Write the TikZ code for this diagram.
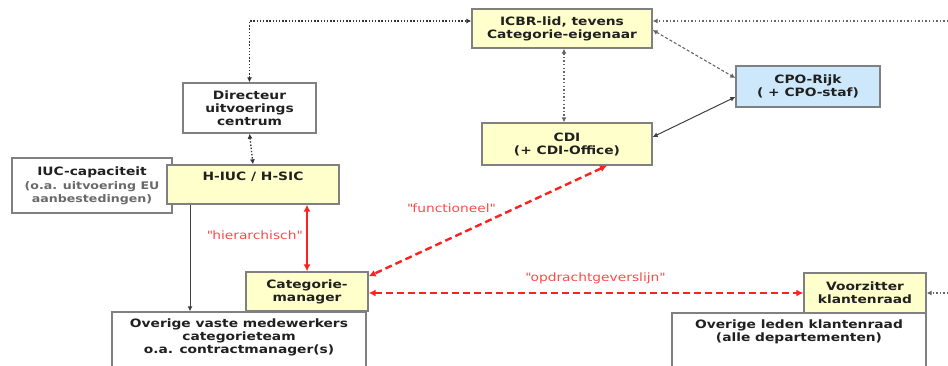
\documentclass[tikz,border=0pt]{standalone}
\usepackage{fontspec}
\setmainfont{DejaVu Sans}[FakeStretch=1.2]
\usetikzlibrary{arrows.meta,calc}
\definecolor{boxline}{HTML}{808080}
\definecolor{cream}{HTML}{FFFFCC}
\definecolor{paleblue}{HTML}{CCE8FA}
\definecolor{relred}{HTML}{FF2020}
\definecolor{lblred}{HTML}{FF4A4A}
\definecolor{txt}{HTML}{202020}
\definecolor{subtxt}{HTML}{6A6A6A}
\newcommand{\dq}{\textquotedbl}
\newcommand{\subline}[1]{\textcolor{subtxt}{\fontsize{10.5}{13}\selectfont #1}}
\begin{document}
\begin{tikzpicture}[x=1pt,y=-1pt,
  every node/.style={font=\fontsize{11.5}{13}\selectfont},
  box/.style={draw=boxline, line width=1.3pt, align=center, inner sep=0pt,
    text=txt, font=\fontsize{11.5}{13}\selectfont\bfseries},
  yellowbox/.style={box, fill=cream},
  bluebox/.style={box, fill=paleblue},
  whitebox/.style={box, fill=white},
  tip/.style={-{Latex[length=5pt,width=5pt]}},
  dottip/.style={{Latex[length=5pt,width=5pt]}-{Latex[length=5pt,width=5pt]}},
  dotline/.style={draw=black!80, line width=1.3pt, dash pattern=on 1.4pt off 1.8pt},
  greydots/.style={draw=black!60, line width=1.3pt, dash pattern=on 1.4pt off 2.2pt},
  greydash/.style={draw=black!60, line width=1.1pt, dash pattern=on 3pt off 2pt},
  solidlink/.style={draw=black!75, line width=1pt},
  redlink/.style={draw=relred, line width=2.4pt,
    {Latex[length=7pt,width=7pt]}-{Latex[length=7pt,width=7pt]}},
  reddash/.style={redlink, dash pattern=on 7pt off 4pt},
  rellabel/.style={text=lblred, inner sep=1pt}]

\useasboundingbox (0,0) rectangle (948,366);
\clip (0,0) rectangle (948,366);

% boxes
\node[yellowbox, minimum width=180pt, minimum height=39pt] (icbr) at (562,28.5)
  {ICBR-lid, tevens\\Categorie-eigenaar};
\node[bluebox, minimum width=144pt, minimum height=41pt] (cpo) at (808,86.5)
  {CPO-Rijk\\( + CPO-staf)};
\node[yellowbox, minimum width=170pt, minimum height=42pt] (cdi) at (567,144)
  {CDI\\(+ CDI-Office)};
\node[whitebox, minimum width=133pt, minimum height=50pt] (dir) at (249.5,108)
  {Directeur\\uitvoerings\\centrum};
\node[whitebox, minimum width=160pt, minimum height=55pt] (iuc) at (92,185.5)
  {IUC-capaciteit\\[1pt]\subline{(o.a. uitvoering EU}\\\subline{aanbestedingen)}};
\node[yellowbox, minimum width=172pt, minimum height=39pt,
  label={[anchor=north, yshift=-4pt, font=\fontsize{11.5}{13}\selectfont\bfseries, text=txt]north:H-IUC / H-SIC}]
  (hiuc) at (253,184.5) {};
\node[whitebox, minimum width=254pt, minimum height=60pt, align=center,
  label={[anchor=north, yshift=-4pt, align=center, font=\fontsize{11.5}{13}\selectfont\bfseries, text=txt]north:Overige vaste medewerkers\\categorieteam\\o.a. contractmanager(s)}]
  (ovv) at (239,342) {};
\node[yellowbox, minimum width=122pt, minimum height=39pt] (cat) at (307,291.5)
  {Categorie-\\manager};
\node[whitebox, minimum width=254pt, minimum height=60pt,
  label={[anchor=north, yshift=-4pt, align=center, font=\fontsize{11.5}{13}\selectfont\bfseries, text=txt]north:Overige leden klantenraad\\(alle departementen)}]
  (ovl) at (799,343) {};
\node[yellowbox, minimum width=122pt, minimum height=40pt] (voor) at (865,293)
  {Voorzitter\\klantenraad};

% off-picture ends of the outgoing links
\coordinate (rtop) at (952,21);
\coordinate (rbot) at (952,293);

% black / grey links
\draw[dotline, dottip] (dir.north) |- ([yshift=7.5pt]icbr.west);
\draw[dotline, dottip] (dir.south) -- (hiuc.north);
\draw[greydots, tip] (rtop) -- ([yshift=7.5pt]icbr.east);
\draw[greydash, dottip] ([yshift=-1.5pt]icbr.east) -- ([yshift=8.5pt]cpo.west);
\draw[greydots, dottip] ([xshift=2pt]icbr.south) -- ([xshift=2pt]icbr.south |- cdi.north);
\draw[solidlink, dottip] ([yshift=7pt]cdi.east) -- ([yshift=-10.5pt]cpo.west);
\draw[solidlink, tip] (hiuc.south -| 190,0) -- (ovv.north -| 190,0);
\draw[greydots, tip] (rbot) -- (voor.east);

% red relations
\draw[redlink] (cat.north |- hiuc.south) -- (cat.north);
\draw[reddash] ([xshift=40pt]cdi.south) -- ([yshift=-5pt]cat.north east);
\draw[reddash] (cat.east |- voor.west) -- (voor.west);

\node[rellabel, anchor=east] (lhier) at (303,235) {\dq hierarchisch\dq};
\node[rellabel] (lfunc) at (451,208) {\dq functioneel\dq};
\node[rellabel] (lopdr) at (595,278) {\dq opdrachtgeverslijn\dq};
\end{tikzpicture}
\end{document}
